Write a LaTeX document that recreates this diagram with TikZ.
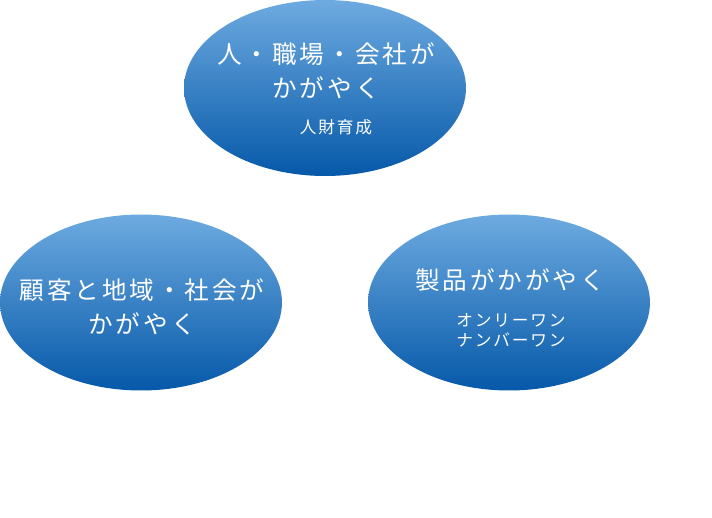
\documentclass[tikz,border=0pt]{standalone}
\usepackage{fontspec}
\setmainfont{Noto Sans CJK JP}[LetterSpace=12]
\newfontfamily\smalljp{Noto Sans CJK JP}[LetterSpace=11]
\usetikzlibrary{shapes.geometric,positioning}

\definecolor{skytop}{HTML}{6DAAE0}
\definecolor{seabottom}{HTML}{0659A9}

\begin{document}
\begin{tikzpicture}[
  x=0.02cm, y=-0.02cm,
  bubble/.style={ellipse, draw=none, inner sep=0pt, minimum width=5.64cm, minimum height=3.52cm, top color=skytop, bottom color=seabottom},
  headline/.style={text=white, align=center, font=\fontsize{14}{19.2}\selectfont},
  subline/.style={text=white, align=center, font=\smalljp\fontsize{9.5}{11.3}\selectfont}
]
\useasboundingbox (0,0) rectangle (712,517);

\node[bubble] (people) at (325,88) {};
\node[bubble] (society) at (141,302.5) {};
\node[bubble] (product) at (509,302.5) {};

\node[headline] (peopletxt) at (326,71) {人・職場・会社が\\かがやく};
\node[subline] (peoplesub) at (336,127) {人財育成};

\node[headline] (societytxt) at (142,307) {顧客と地域・社会が\\かがやく};

\node[headline] (producttxt) at (510,280) {製品がかがやく};
\node[subline] (productsub) at (511,330) {オンリーワン\\ナンバーワン};

\end{tikzpicture}
\end{document}
